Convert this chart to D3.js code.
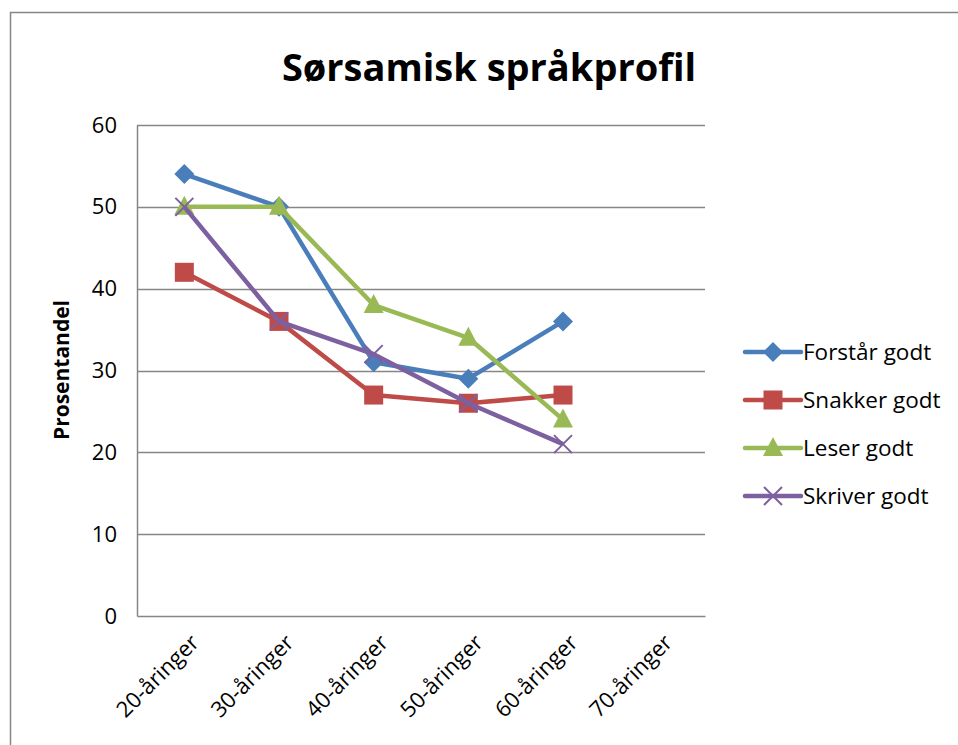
<!DOCTYPE html>
<html>
<head>
<meta charset="utf-8">
<script src="https://cdn.jsdelivr.net/npm/d3@7"></script>
<style>
  body { margin: 0; background: #fff; }
  text { font-family: "Open Sans", "Noto Sans", sans-serif; fill: #000; }
</style>
</head>
<body>
<div id="vis"></div>
<script>
// chart data
const categories = ["20-åringer", "30-åringer", "40-åringer", "50-åringer", "60-åringer", "70-åringer"];
const seriesNames = ["Forstår godt", "Snakker godt", "Leser godt", "Skriver godt"];
const forstar = [54, 50, 31, 29, 36];
const snakker = [42, 36, 27, 26, 27];
const leser = [50, 50, 38, 34, 24];
const skriver = [50, 36, 32, 26, 21];
const yTicks = [0, 10, 20, 30, 40, 50, 60];

const FRAME_WIDTH = 958;
const FRAME_HEIGHT = 745;
const MARGINS = {left: 137, right: 253, top: 125, bottom: 129};
const VIS_WIDTH = FRAME_WIDTH - MARGINS.left - MARGINS.right;
const VIS_HEIGHT = FRAME_HEIGHT - MARGINS.top - MARGINS.bottom;

const colors = ["#4A7EBB", "#BE4B48", "#98B954", "#7D60A0"];
const markers = ["diamond", "square", "triangle", "x"];
const series = [forstar, snakker, leser, skriver].map((vals, i) => ({
  name: seriesNames[i], values: vals, color: colors[i], marker: markers[i]
}));

const svg = d3.select("#vis")
  .append("svg")
    .attr("width", FRAME_WIDTH)
    .attr("height", FRAME_HEIGHT);

// outer chart border
svg.append("rect")
  .attr("x", 10.5).attr("y", 12.5)
  .attr("width", 960).attr("height", 760)
  .attr("fill", "none")
  .attr("stroke", "#868686")
  .attr("stroke-width", 1.5);

svg.append("text")
  .attr("x", 489).attr("y", 81)
  .attr("text-anchor", "middle")
  .attr("font-size", "38px")
  .attr("font-weight", "bold")
  .text("Sørsamisk språkprofil");

const X_SCALE = d3.scaleBand()
  .domain(categories)
  .range([0, VIS_WIDTH]);

const Y_SCALE = d3.scaleLinear()
  .domain([0, 60])
  .range([VIS_HEIGHT, 0]);

const plot = svg.append("g")
  .attr("transform", "translate(" + MARGINS.left + "," + MARGINS.top + ")");

// gridlines
plot.append("g")
  .selectAll("line")
  .data(yTicks.filter(d => d > 0))
  .enter()
  .append("line")
    .attr("x1", 0).attr("x2", VIS_WIDTH)
    .attr("y1", d => Math.round(Y_SCALE(d)) + 0.5)
    .attr("y2", d => Math.round(Y_SCALE(d)) + 0.5)
    .attr("stroke", "#868686")
    .attr("stroke-width", 1.5);

// y axis
const yAxis = plot.append("g")
  .call(d3.axisLeft(Y_SCALE).tickValues(yTicks).tickSize(0).tickPadding(20));
yAxis.select(".domain").attr("stroke", "#868686").attr("stroke-width", 1.5);
yAxis.selectAll("text").attr("font-size", "22px").attr("font-family", "Open Sans");

// x axis
const xAxis = plot.append("g")
  .attr("transform", "translate(0," + VIS_HEIGHT + ")")
  .call(d3.axisBottom(X_SCALE).tickSize(0).tickPadding(0));
xAxis.select(".domain").attr("stroke", "#868686").attr("stroke-width", 1.5);
xAxis.selectAll("text")
  .attr("font-size", "22px")
  .attr("font-family", "Open Sans")
  .attr("text-anchor", "end")
  .attr("dy", 0)
  .attr("transform", "translate(16,28) rotate(-45)");

// y axis title
svg.append("text")
  .attr("transform", "translate(69,370) rotate(-90)")
  .attr("text-anchor", "middle")
  .attr("font-size", "21px")
  .attr("font-weight", "bold")
  .text("Prosentandel");

const cx = (i) => X_SCALE(categories[i]) + X_SCALE.bandwidth() / 2;

const line = d3.line()
  .x((d, i) => cx(i))
  .y(d => Y_SCALE(d));

function drawMarker(g, type, color) {
  if (type === "diamond") {
    g.append("path").attr("d", "M0,-10L10,0L0,10L-10,0Z").attr("fill", color);
  } else if (type === "square") {
    g.append("rect").attr("x", -9.5).attr("y", -9.5).attr("width", 19).attr("height", 19).attr("fill", color);
  } else if (type === "triangle") {
    g.append("path").attr("d", "M0,-11L10,8L-10,8Z").attr("fill", color);
  } else {
    g.append("path").attr("d", "M-9,-9L9,9M-9,9L9,-9")
      .attr("stroke", color).attr("stroke-width", 2).attr("fill", "none");
  }
}

series.forEach(s => {
  plot.append("path")
    .datum(s.values)
    .attr("d", line)
    .attr("fill", "none")
    .attr("stroke", s.color)
    .attr("stroke-width", 4.5)
    .attr("stroke-linejoin", "round");
  s.values.forEach((v, i) => {
    const g = plot.append("g")
      .attr("transform", "translate(" + cx(i) + "," + Y_SCALE(v) + ")");
    drawMarker(g, s.marker, s.color);
  });
});

// legend
const legend = svg.append("g").attr("transform", "translate(745,352)");
series.forEach((s, i) => {
  const g = legend.append("g").attr("transform", "translate(0," + (i * 48) + ")");
  g.append("line")
    .attr("x1", 0).attr("x2", 56)
    .attr("stroke", s.color)
    .attr("stroke-width", 4.5)
    .attr("stroke-linecap", "round");
  const m = g.append("g").attr("transform", "translate(28,0)");
  drawMarker(m, s.marker, s.color);
  g.append("text")
    .attr("x", 58).attr("y", 8)
    .attr("font-size", "22.5px")
    .text(s.name);
});
</script>
</body>
</html>
